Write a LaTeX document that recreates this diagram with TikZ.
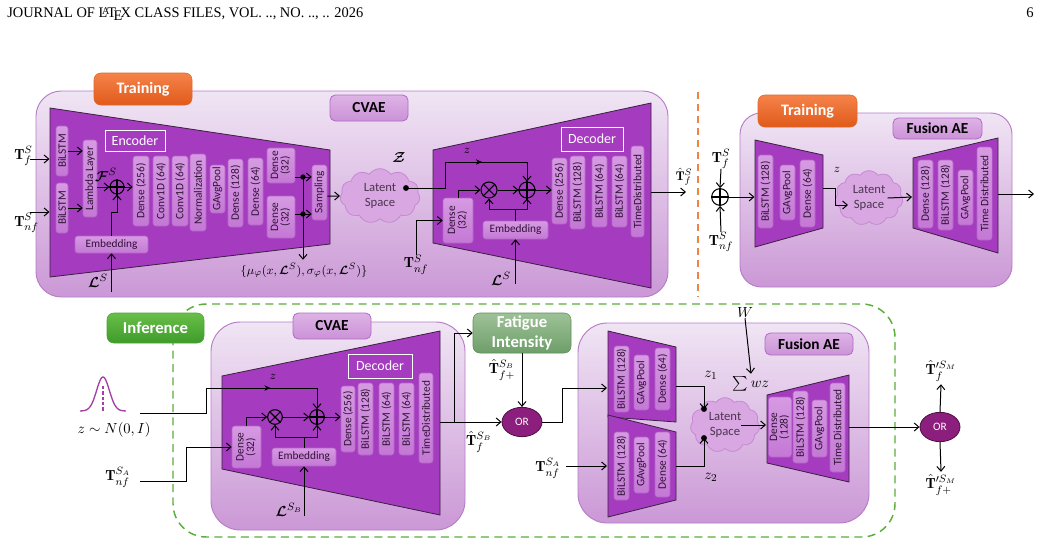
\documentclass[tikz,border=0pt]{standalone}
\usepackage{fontspec}
\usepackage{amsmath,amssymb,bm,graphicx}
\usetikzlibrary{arrows.meta,shapes.symbols,shapes.geometric,calc,decorations.markings}
\newfontfamily\calib{Carlito}
\newfontfamily\timesf{Liberation Serif}
\definecolor{outtop}{HTML}{F0E5F4}
\definecolor{outbot}{HTML}{CB98D6}
\definecolor{outbd}{HTML}{B77CC8}
\definecolor{trapc}{HTML}{A53CBF}
\definecolor{trapbd}{HTML}{3A2040}
\definecolor{laytop}{HTML}{D69AE2}
\definecolor{laybot}{HTML}{C478D5}
\definecolor{laybd}{HTML}{B464C8}
\definecolor{laytxt}{HTML}{2E1234}
\definecolor{labtop}{HTML}{DEB3E6}
\definecolor{labbot}{HTML}{CB92D7}
\definecolor{labbd}{HTML}{B06CC4}
\definecolor{ortop}{HTML}{F5834A}
\definecolor{orbot}{HTML}{E05A1A}
\definecolor{orbd}{HTML}{E0672A}
\definecolor{grtop}{HTML}{68BF48}
\definecolor{grbot}{HTML}{3E9B2B}
\definecolor{grbd}{HTML}{4CA535}
\definecolor{fattop}{HTML}{9EC298}
\definecolor{fatbot}{HTML}{6E9E69}
\definecolor{fatbd}{HTML}{5F8E5B}
\definecolor{orfill}{HTML}{8C1F7D}
\definecolor{orline}{HTML}{4F0F45}
\definecolor{cldfill}{HTML}{D9A7E1}
\definecolor{cldbd}{HTML}{C48AD2}
\definecolor{cldtxt}{HTML}{4B3550}
\definecolor{gdash}{HTML}{5BAE3A}
\definecolor{odash}{HTML}{EE8445}
\definecolor{gaussc}{HTML}{A43FA6}
\newcommand\bx[7]{\node[#6,minimum width={(#4-#2)*0.75pt},minimum height={(#5-#3)*0.75pt}] (#1) at ({(#2+#4)/2},{(#3+#5)/2}) {#7};}
\newcommand\lay[6]{\bx{#1}{#2}{#3}{#4}{#5}{layer}{\rotatebox{90}{#6}}}
\newcommand\twol[2]{\begin{tabular}{@{}c@{}}#1\\[-1pt]#2\end{tabular}}
\newcommand\opn[4]{\node[circle,draw,line width=0.8pt,minimum size=#4,inner sep=0pt] (#1) at (#2,#3) {};\draw[line width=0.8pt] (#1.north)--(#1.south) (#1.west)--(#1.east);}
\newcommand\otn[4]{\node[circle,draw,line width=0.8pt,minimum size=#4,inner sep=0pt] (#1) at (#2,#3) {};\draw[line width=0.8pt] (#1.north east)--(#1.south west) (#1.north west)--(#1.south east);}
\begin{document}
\begin{tikzpicture}[x=0.75pt,y=-0.75pt,
  obox/.style={draw=outbd,line width=0.7pt,top color=outtop,bottom color=outbot,rounded corners=#1},
  trap/.style={fill=trapc,draw=trapbd,line width=0.6pt},
  layer/.style={draw=laybd,line width=0.4pt,top color=laytop,bottom color=laybot,rounded corners=2pt,inner sep=0pt,font=\calib\fontsize{8.5}{9}\selectfont,text=laytxt},
  labbox/.style={draw=labbd,line width=0.6pt,top color=labtop,bottom color=labbot,rounded corners=4pt,inner sep=0pt,font=\calib\bfseries\fontsize{11.5}{13}\selectfont,text=black},
  wlab/.style={draw=white,line width=0.7pt,inner sep=0pt,font=\calib\fontsize{10.5}{12}\selectfont,text=white},
  orangebox/.style={draw=orbd,top color=ortop,bottom color=orbot,rounded corners=5pt,inner sep=0pt,font=\calib\bfseries\fontsize{12}{14}\selectfont,text=white},
  greenbox/.style={draw=grbd,top color=grtop,bottom color=grbot,rounded corners=5pt,inner sep=0pt,font=\calib\bfseries\fontsize{12.5}{14}\selectfont,text=white},
  fatbox/.style={draw=fatbd,top color=fattop,bottom color=fatbot,rounded corners=5pt,inner sep=0pt,align=center,font=\calib\bfseries\fontsize{12.5}{15}\selectfont,text=white},
  cloudn/.style={cloud,cloud puffs=11,cloud puff arc=110,aspect=1.5,draw=cldbd,fill=cldfill,line width=0.6pt,inner sep=0pt,align=center,font=\calib\fontsize{9.5}{11.5}\selectfont,text=cldtxt},
  orn/.style={ellipse,draw=orline,fill=orfill,line width=0.6pt,minimum width=30pt,minimum height=22pt,inner sep=0pt,text=white,font=\calib\fontsize{8.5}{10}\selectfont},
  arr/.style={line width=0.75pt,-{Straight Barb[length=3.5pt,width=6pt]}},
  ln/.style={line width=0.75pt},
  midarrow/.style={postaction={decorate},decoration={markings,mark=at position #1 with {\arrow{Stealth[length=4.5pt,width=4pt]}}}},
  mlab/.style={inner sep=0pt,font=\fontsize{11}{13}\selectfont},
  slab/.style={inner sep=0pt,font=\fontsize{9.5}{11}\selectfont}
]
\useasboundingbox (0,0) rectangle (1041,546);

% header
\node[anchor=base west,inner sep=0pt,font=\timesf\fontsize{11}{13}\selectfont] (hdr) at (7,17) {\resizebox{267pt}{\height}{JOURNAL OF \LaTeX\ CLASS FILES, VOL. .., NO. .., .. 2026}};
\node[anchor=base east,inner sep=0pt,font=\timesf\fontsize{11}{13}\selectfont] (pgno) at (1034,17) {6};

% ================= TOP CVAE =================
\draw[obox=19pt] (36,91) rectangle (668,297);
\bx{trainA}{94}{73}{192}{105}{orangebox}{Training}
\bx{cvaeA}{330}{95}{408}{121}{labbox}{CVAE}
\draw[trap] (50,108) -- (330,150) -- (330,244) -- (50,277) -- cycle;
\bx{encA}{105}{130}{165}{151}{wlab}{Encoder}
\lay{bil1}{56}{126}{68}{176}{BiLSTM}
\lay{bil2}{56}{183}{68}{233}{BiLSTM}
\lay{lam}{83}{140}{97}{217}{Lambda Layer}
\bx{embA}{75}{236}{148}{253}{layer}{Embedding}
\opn{opA}{117}{187}{10.5pt}
\lay{d256}{133}{156}{149}{226}{Dense (256)}
\lay{cv1}{153}{156}{169}{226}{Conv1D (64)}
\lay{cv2}{172}{156}{188}{226}{Conv1D (64)}
\lay{nrm}{190}{154}{206}{231}{Normalization}
\lay{gap}{210}{165}{225}{213}{GAvgPool}
\lay{d128}{228}{159}{243}{227}{Dense (128)}
\lay{d64}{248}{158}{263}{225}{Dense (64)}
\lay{d32a}{267}{148}{295}{183}{\twol{Dense}{(32)}}
\lay{d32b}{267}{196}{295}{238}{\twol{Dense}{(32)}}
\lay{samp}{312}{165}{327}{220}{Sampling}

\node[mlab,anchor=base west] (lblTf) at (14,159) {$\mathbf{T}_f^S$};
\node[mlab,anchor=base west] (lblTnf) at (14,226) {$\mathbf{T}_{nf}^S$};
\coordinate (tfA) at (30,159); \coordinate (tfAe) at (49.5,159);
\coordinate (tnfA) at (30,212); \coordinate (tnfAe) at (49.5,212);
\draw[arr] (tfA) -- (tfAe);
\draw[arr] (tnfA) -- (tnfAe);
\draw[arr] (bil1.east) -- (bil1.east -| lam.west);
\draw[arr] (bil2.east) -- (bil2.east -| lam.west);
\draw[arr] (lam.east |- opA) -- (opA.west);
\draw[arr] (opA.east) -- (opA.east -| d256.west);
\draw[arr] (embA.north) -- ++(0,-23) -| (opA.south);
\node[mlab] (lblF) at (106,175) {$\bm{\mathcal{F}}^S$};
\node[mlab,anchor=east] (lblLA) at (108,281) {$\bm{\mathcal{L}}^S$};
\coordinate (lsA) at (111.5,292);
\draw[arr] (lsA) -- (embA.south);

\coordinate (dotA) at (303,177); \coordinate (dotB) at (303,214);
\draw[arr] (d32a.east |- dotA) -- (dotA -| samp.west);
\draw[arr] (d32b.east |- dotB) -- (dotB -| samp.west);
\node[slab] (mulbl) at (304,270) {$\{\mu_\varphi(x,\bm{\mathcal{L}}^S),\sigma_\varphi(x,\bm{\mathcal{L}}^S)\}$};
\draw[arr] (dotA) -- ([yshift=2pt]mulbl.north -| dotA);
\fill (dotA) circle (2pt); \fill (dotB) circle (2pt);

\node[cloudn,minimum width=60pt,minimum height=41pt] (latA) at (380,196) {Latent\\Space};
\draw[arr] (samp.east |- latA) -- (latA.west);
\node[mlab] (zA) at (399,157) {$\bm{\mathcal{Z}}$};

% decoder
\draw[trap] (433,150) -- (651,103) -- (651,288) -- (433,243) -- cycle;
\bx{decA}{561}{127}{623}{151}{wlab}{Decoder}
\lay{dd32}{443}{198}{473}{243}{\twol{Dense}{(32)}}
\otn{otA}{489}{190}{12pt}
\opn{opB}{527}{190}{12pt}
\bx{embB}{483}{221}{548}{239}{layer}{Embedding}
\lay{dd256}{552}{158}{567}{224}{Dense (256)}
\lay{dbl128}{570}{156}{585}{229}{BiLSTM (128)}
\lay{dbl64a}{592}{156}{607}{227}{BiLSTM (64)}
\lay{dbl64b}{612}{156}{627}{227}{BiLSTM (64)}
\lay{dtd}{631}{146}{644}{237}{TimeDistributed}

\coordinate (dotZ) at (406,188); \coordinate (zrail) at (445,162);
\draw[arr] (dotZ) -| (zrail) -| (opB.north);
\path[midarrow=0.45] (zrail) -- (zrail -| opB.north);
\fill (dotZ) circle (2.2pt);
\node[slab] (zlA) at (467,151) {$z$};
\draw[arr] (dd32.north) |- (otA.west);
\draw[arr] (otA.east) -- (opB.west);
\draw[ln] (embB.north) -- ++(0,-11) coordinate (ejB);
\draw[arr] (ejB) -| (otA.south);
\draw[arr] (ejB) -| (opB.south);
\draw[arr] (opB.east) -- (opB.east -| dd256.west);
\node[mlab,anchor=north] (lblTnfB) at (416,255) {$\mathbf{T}_{nf}^S$};
\draw[arr] (lblTnfB.north) |- (dd32.west);
\node[mlab] (lblLB) at (501,279) {$\bm{\mathcal{L}}^S$};
\coordinate (lsB) at (515.5,284);
\draw[arr] (lsB) -- (embB.south);
\coordinate (decAr) at (651,192); \coordinate (outA) at (686,192);
\draw[arr] (decAr) -- (outA);
\node[slab] (lblTfh) at (684,177) {$\hat{\mathbf{T}}_f^S$};

\draw[odash,line width=1.1pt,dash pattern=on 5pt off 4pt] (698,92) -- (698,297);

% ================= TOP FUSION AE =================
\draw[obox=16pt] (740,113) rectangle (1012,287);
\bx{trainB}{758}{95}{857}{127}{orangebox}{Training}
\bx{fusA}{893}{118}{982}{139}{labbox}{Fusion AE}
\draw[trap] (755,140) -- (823,155) -- (823,228) -- (755,247) -- cycle;
\lay{fbl}{758}{155}{773}{228}{BiLSTM (128)}
\lay{fgap}{780}{165}{795}{220}{GAvgPool}
\lay{fd64}{800}{160}{815}{227}{Dense (64)}
\opn{opC}{720}{197}{12.5pt}
\node[mlab] (lblTfC) at (721,159) {$\mathbf{T}_f^S$};
\node[mlab] (lblTnfC) at (721,242) {$\mathbf{T}_{nf}^S$};
\draw[arr] (lblTfC.south) -- (opC.north);
\draw[arr] (lblTnfC.north) -- (opC.south);
\coordinate (encCl) at (754.5,197);
\draw[arr] (opC.east) -- (encCl);
\node[slab] (zC) at (837,170) {$z$};
\node[cloudn,minimum width=51pt,minimum height=41pt] (latC) at (869,198) {Latent\\Space};
\coordinate (fzA) at (823,188); \coordinate (fzB) at (848,205);
\draw[arr] (fzA) -- (835,188) -- (835,205) -- (fzB);
\draw[trap] (913,158) -- (998,138) -- (998,253) -- (913,228) -- cycle;
\lay{fdd128}{918}{160}{933}{228}{Dense (128)}
\lay{fdb128}{938}{160}{953}{230}{BiLSTM (128)}
\lay{fdgap}{958}{170}{973}{225}{GAvgPool}
\lay{fdtd}{977}{147}{992}{240}{Time Distributed}
\coordinate (fdl) at (912,197);
\draw[arr] ([xshift=14pt]latC.center) -- (fdl);
\coordinate (fdr) at (998,194); \coordinate (fout) at (1034,194);
\draw[arr] (fdr) -- (fout);

% ================= INFERENCE =================
\draw[gdash,line width=1.1pt,dash pattern=on 6pt off 4pt,rounded corners=25pt] (173,304) rectangle (895,537);
\bx{inf}{107}{313}{204}{343}{greenbox}{Inference}

% bottom CVAE
\draw[obox=22pt] (211,322) rectangle (465,530);
\bx{cvaeB}{293}{313}{371}{339}{labbox}{CVAE}
\draw[trap] (222,376) -- (440,331) -- (440,515) -- (222,469) -- cycle;
\bx{decB}{348}{354}{412}{378}{wlab}{Decoder}
\lay{bd32}{232}{426}{261}{468}{\twol{Dense}{(32)}}
\otn{otB}{275}{417}{11pt}
\opn{opD}{317}{417}{11pt}
\bx{embC}{272}{448}{336}{466}{layer}{Embedding}
\lay{bd256}{341}{386}{355}{452}{Dense (256)}
\lay{bb128}{358}{383}{373}{455}{BiLSTM (128)}
\lay{bb64a}{379}{383}{394}{455}{BiLSTM (64)}
\lay{bb64b}{399}{383}{414}{455}{BiLSTM (64)}
\lay{btd}{419}{373}{433}{463}{TimeDistributed}
\node[slab] (zB) at (273,377) {$z$};

% gaussian
\draw[gaussc,line width=1pt] plot[domain=-23:23,samples=60] ({103+\x},{411-34*exp(-((\x/9)^2))});
\draw[gaussc,line width=1pt,dash pattern=on 2.5pt off 1.5pt] (103,386) -- (103,411);
\node[mlab] (zN) at (114,430) {$z\sim N(0,I)$};
\coordinate (zst) at (140,413); \coordinate (zr2) at (206,388);
\draw[arr] (zst) -| (zr2) -| (opD.north);
\path[midarrow=0.58] (zr2) -- (zr2 -| opD.north);
\node[mlab] (lblTA) at (118,477) {$\mathbf{T}_{nf}^{S_A}$};
\coordinate (tast) at (140,481);
\draw[arr] (tast) -- (186,481) |- (bd32.west);
\draw[arr] (bd32.north) |- (otB.west);
\draw[arr] (otB.east) -- (opD.west);
\draw[ln] (embC.north) -- ++(0,-10) coordinate (ejC);
\draw[arr] (ejC) -| (otB.south);
\draw[arr] (ejC) -| (opD.south);
\draw[arr] (opD.east) -- (opD.east -| bd256.west);
\node[mlab] (lblLSB) at (289,510) {$\bm{\mathcal{L}}^{S_B}$};
\coordinate (lsC) at (304,516);
\draw[arr] (lsC) -- (embC.south);

% fatigue + OR
\bx{fat}{473}{313}{571}{353}{fatbox}{Fatigue\\Intensity}
\node[orn] (orA) at (522,422) {OR};
\coordinate (bOut) at (440,422); \coordinate (brA) at (454,422);
\draw[arr] (bOut) -- (orA.west);
\draw[arr] (brA) |- (fat.west);
\node[mlab] (lblTfB) at (479,442) {$\hat{\mathbf{T}}_f^{S_B}$};
\draw[arr] (fat.south) -- (orA.north);
\node[mlab] (lblTfp) at (502,370) {$\hat{\mathbf{T}}_{f+}^{S_B}$};

% bottom fusion AE
\draw[obox=22pt] (578,323) rectangle (869,523);
\bx{fusB}{765}{333}{853}{355}{labbox}{Fusion AE}
\draw[trap] (608,331) -- (676,347) -- (676,422) -- (608,417) -- cycle;
\lay{u1}{614}{346}{629}{412}{BiLSTM (128)}
\lay{u2}{634}{355}{649}{410}{GAvgPool}
\lay{u3}{655}{348}{670}{410}{Dense (64)}
\draw[trap] (608,415) -- (676,432) -- (676,500) -- (608,517) -- cycle;
\lay{l1}{614}{432}{629}{500}{BiLSTM (128)}
\lay{l2}{634}{437}{649}{493}{GAvgPool}
\lay{l3}{655}{432}{670}{497}{Dense (64)}
\coordinate (fe1l) at (607,388);
\draw[arr] (orA.east) -- (562,422) |- (fe1l);
\node[mlab] (lblTA2) at (548,468) {$\mathbf{T}_{nf}^{S_A}$};
\coordinate (fe2s) at (566,466); \coordinate (fe2l) at (607,466);
\draw[arr] (fe2s) -- (fe2l);

\node[cloudn,minimum width=52pt,minimum height=41pt] (latD) at (725,425) {Latent\\Space};
\coordinate (u3r) at (676,386); \coordinate (l3r) at (676,466);
\coordinate (dot1) at (704,409); \coordinate (dot2) at (704,438);
\draw[arr] (u3r) -| (dot1);
\draw[arr] (l3r) -| (dot2);
\fill (dot1) circle (2.2pt); \fill (dot2) circle (2.2pt);
\node[mlab] (lz1) at (711,375) {$z_1$};
\node[mlab] (lz2) at (711,477) {$z_2$};
\node[mlab] (lblW) at (745,313) {$W$};
\node[mlab] (lblSum) at (751,384) {$\sum wz$};
\draw[arr] (lblW.south) -- ([yshift=2pt]lblSum.north);

\draw[trap] (767,395) -- (849,375) -- (849,482) -- (767,463) -- cycle;
\lay{g1}{772}{397}{788}{457}{\twol{Dense}{(128)}}
\lay{g2}{793}{391}{808}{463}{BiLSTM (128)}
\lay{g3}{812}{400}{827}{457}{GAvgPool}
\lay{g4}{830}{383}{845}{472}{Time Distributed}
\coordinate (gdl) at (766,425);
\draw[arr] ([xshift=12pt]latD.center) -- (gdl);

\node[orn] (orB) at (940,427) {OR};
\coordinate (gdr) at (849,427);
\draw[arr] (gdr) -- (orB.west);
\node[mlab] (lblO1) at (941,371) {$\hat{\mathbf{T}}'^{S_M}_{f}$};
\node[mlab] (lblO2) at (941,485) {$\hat{\mathbf{T}}'^{S_M}_{f+}$};
\draw[arr] (orB.north) -- ([yshift=-2pt]lblO1.south);
\draw[arr] (orB.south) -- ([yshift=2pt]lblO2.north);
\end{tikzpicture}
\end{document}
